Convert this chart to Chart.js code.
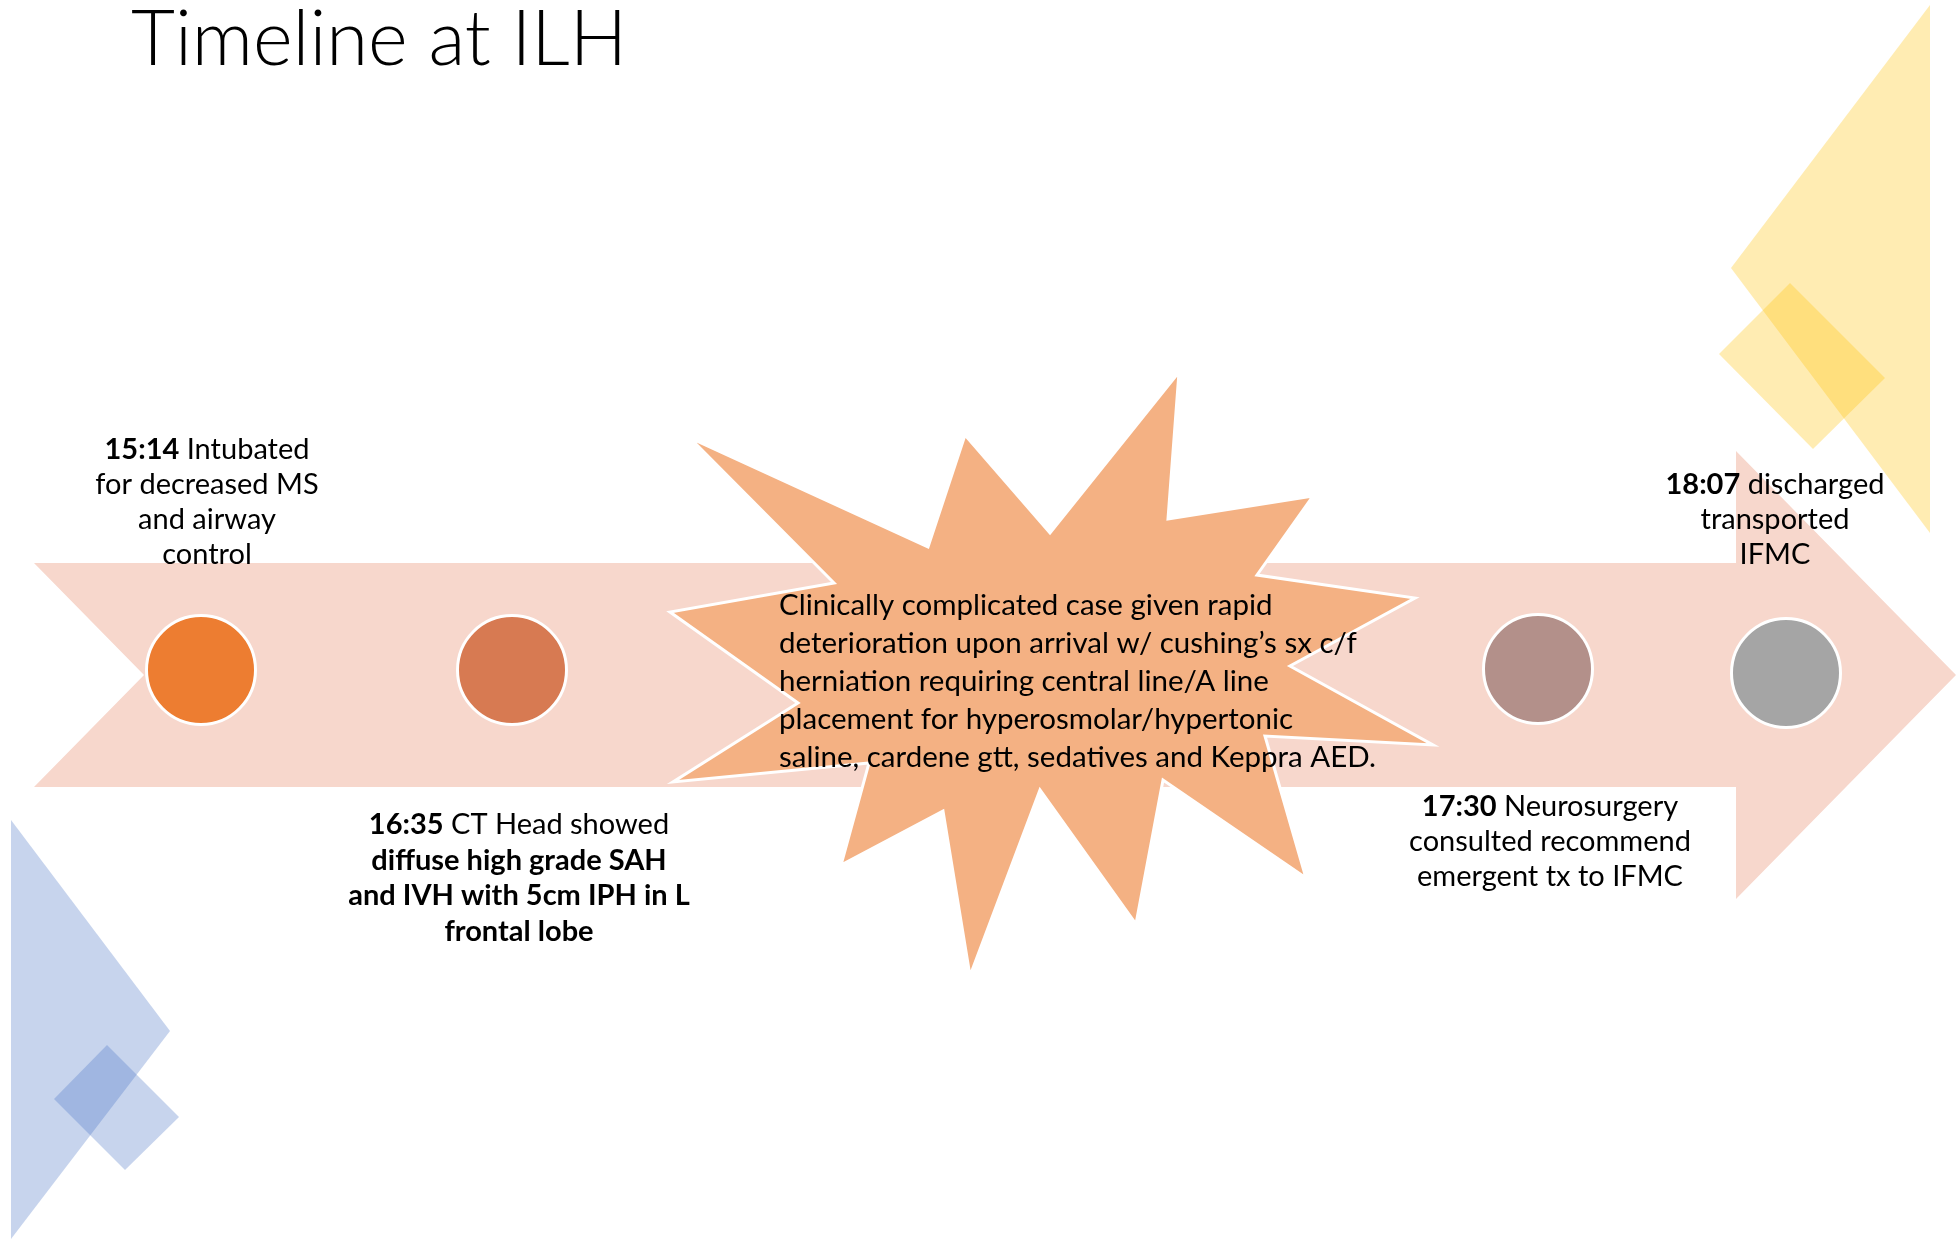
<!DOCTYPE html>
<html>
<head>
<meta charset="utf-8">
<title>Timeline at ILH</title>
<script src="https://cdn.jsdelivr.net/npm/chart.js@4.4.1/dist/chart.umd.min.js"></script>
<style>
	html, body { margin: 0; padding: 0; background: #fff; }
	canvas { display: block; }
</style>
</head>
<body>
<canvas id="timeline" width="1956" height="1239"></canvas>
<script>
// Events along the arrow
const eventTimes = ['15:14', '16:35', '17:30', '18:07'];
const eventTrack = [201, 512, 1538, 1786];
const eventLevel = [670, 670, 669, 673];
const eventColors = ['#ED7D31', '#D77A52', '#B3908A', '#A5A5A5'];
const eventNotes = [
	['Intubated', 'for decreased MS', 'and airway', 'control'],
	['CT Head showed', 'diffuse high grade SAH', 'and IVH with 5cm IPH in L', 'frontal lobe'],
	['Neurosurgery', 'consulted recommend', 'emergent tx to IFMC'],
	['discharged', 'transported', 'IFMC'],
];
const eventBoldLines = [[], [1, 2, 3], [], []];

const burstNote = [
	'Clinically complicated case given rapid',
	'deterioration upon arrival w/ cushing\u2019s sx c/f',
	'herniation requiring central line/A line',
	'placement for hyperosmolar/hypertonic',
	'saline, cardene gtt, sedatives and Keppra AED.',
];

const titleText = 'Timeline at ILH';

// Layout (slide pixels)
const FONT = 'Lato, "Open Sans", sans-serif';
const BODY_PX = 29;
const TITLE_PX = 76;
const labelLayout = [
	{ cx: 207, top: 450, step: 35 },
	{ cx: 519, top: 825, step: 35.5 },
	{ cx: 1550, top: 807, step: 35 },
	{ cx: 1775, top: 485, step: 35 },
];
const burstLayout = { left: 779, top: 605, step: 38, size: 29.5 };

const arrowShape = [
	[34, 563], [1736, 563], [1736, 451], [1956, 675], [1736, 899], [1736, 787], [34, 787], [144, 675],
];
const burstShape = [
	[690, 438], [928, 547], [965, 435], [1050, 533], [1179, 372], [1168, 519],
	[1313, 496], [1257, 575], [1415, 598], [1290, 666], [1433, 745], [1265, 736],
	[1306, 878], [1163, 780], [1136, 924], [1040, 790], [970, 976], [943, 811],
	[841, 865], [869, 763], [673, 782], [798, 703], [670, 612], [834, 583],
];
const yellowTriangle = [[1930, 5], [1731, 268], [1930, 533]];
const yellowDiamond = [[1790, 283], [1885, 378], [1813, 449], [1719, 354]];
const blueTriangle = [[11, 820], [170, 1031], [11, 1239]];
const blueDiamond = [[107, 1045], [179, 1117], [125, 1170], [54, 1099]];

const polygon = (chart, points, fill, stroke, lineWidth) => {
	const { ctx, scales } = chart;

	ctx.beginPath();
	points.forEach(([x, y], i) => {
		const px = scales.x.getPixelForValue(x);
		const py = scales.y.getPixelForValue(y);

		if (i === 0) {
			ctx.moveTo(px, py);
		} else {
			ctx.lineTo(px, py);
		}
	});
	ctx.closePath();
	ctx.fillStyle = fill;
	ctx.fill();

	if (stroke) {
		ctx.strokeStyle = stroke;
		ctx.lineWidth = lineWidth;
		ctx.lineJoin = 'miter';
		ctx.stroke();
	}
};

// segments: [[text, bold], ...] drawn centred or left aligned on one line
const drawLine = (ctx, segments, x, y, align, size) => {
	const fontFor = (bold) => `${bold ? 'bold' : 'normal'} ${size}px ${FONT}`;
	const widths = segments.map(([text, bold]) => {
		ctx.font = fontFor(bold);
		return ctx.measureText(text).width;
	});
	const total = widths.reduce((a, b) => a + b, 0);
	let cursor = align === 'center' ? x - total / 2 : x;

	ctx.textAlign = 'left';
	ctx.textBaseline = 'middle';
	ctx.fillStyle = '#000';

	segments.forEach(([text, bold], i) => {
		ctx.font = fontFor(bold);
		ctx.fillText(text, cursor, y);
		cursor += widths[i];
	});
};

const slideArt = {
	id: 'slideArt',
	beforeDatasetsDraw(chart) {
		const { ctx } = chart;

		ctx.save();
		polygon(chart, yellowTriangle, 'rgba(255, 192, 0, 0.3)');
		polygon(chart, yellowDiamond, 'rgba(255, 192, 0, 0.3)');
		polygon(chart, blueTriangle, 'rgba(68, 114, 196, 0.3)');
		polygon(chart, blueDiamond, 'rgba(68, 114, 196, 0.3)');
		polygon(chart, arrowShape, '#F7D7CC');
		polygon(chart, burstShape, '#F4B183', '#FFFFFF', 3);
		ctx.restore();
	},
	afterDatasetsDraw(chart) {
		const { ctx, scales } = chart;

		ctx.save();

		ctx.font = `300 ${TITLE_PX}px ${FONT}`;
		ctx.fillStyle = '#000';
		ctx.textAlign = 'left';
		ctx.textBaseline = 'alphabetic';
		ctx.fillText(titleText, scales.x.getPixelForValue(131), scales.y.getPixelForValue(65));

		eventNotes.forEach((lines, i) => {
			const layout = labelLayout[i];
			const cx = scales.x.getPixelForValue(layout.cx);

			lines.forEach((line, j) => {
				const bold = eventBoldLines[i].includes(j);
				const segments = j === 0
					? [[eventTimes[i], true], [' ' + line, bold]]
					: [[line, bold]];
				const y = scales.y.getPixelForValue(layout.top + layout.step * j);

				drawLine(ctx, segments, cx, y, 'center', BODY_PX);
			});
		});

		burstNote.forEach((line, j) => {
			drawLine(
				ctx,
				[[line, false]],
				scales.x.getPixelForValue(burstLayout.left),
				scales.y.getPixelForValue(burstLayout.top + burstLayout.step * j),
				'left',
				burstLayout.size,
			);
		});

		ctx.restore();
	},
};

new Chart(document.getElementById('timeline'), {
	type: 'scatter',
	data: {
		datasets: [{
			label: 'Events',
			data: eventTrack.map((x, i) => ({ x, y: eventLevel[i] })),
			pointRadius: 54.5,
			pointHoverRadius: 54.5,
			pointBackgroundColor: eventColors,
			pointBorderColor: '#FFFFFF',
			pointBorderWidth: 3,
			pointHoverBorderWidth: 3,
			showLine: false,
			clip: false,
		}],
	},
	options: {
		responsive: false,
		animation: false,
		events: [],
		layout: { padding: 0, autoPadding: false },
		scales: {
			x: { type: 'linear', min: 0, max: 1956, display: false },
			y: { type: 'linear', min: 0, max: 1239, reverse: true, display: false },
		},
		plugins: {
			legend: { display: false },
			tooltip: { enabled: false },
		},
	},
	plugins: [slideArt],
});
</script>
</body>
</html>
